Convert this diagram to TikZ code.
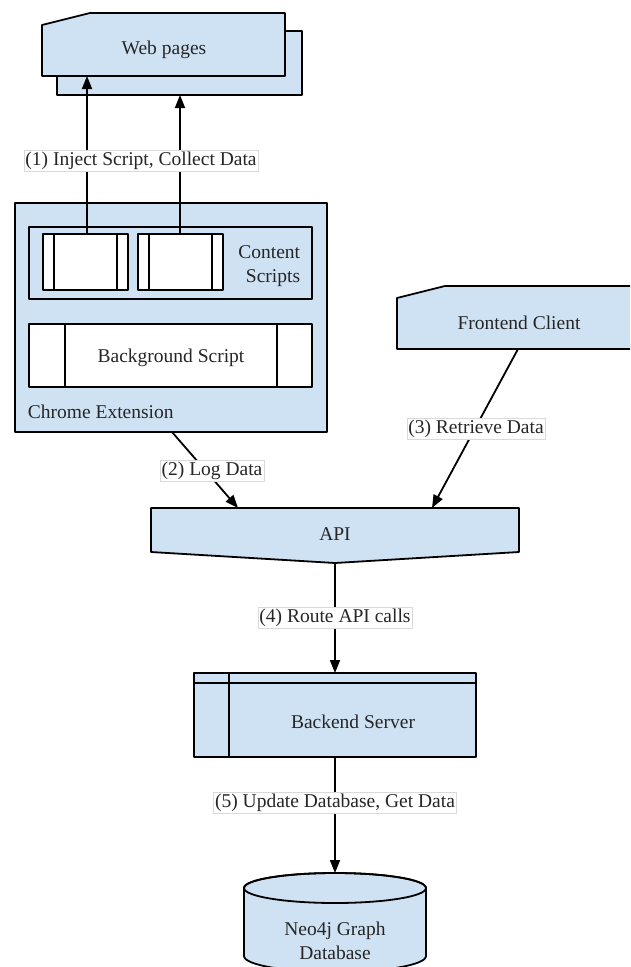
\documentclass[tikz,border=0pt]{standalone}
\usepackage{fontspec}
\setmainfont{Liberation Serif}
\usetikzlibrary{arrows.meta}
\definecolor{paleblue}{HTML}{CFE2F3}
\definecolor{inkgray}{HTML}{262626}

\begin{document}
\begin{tikzpicture}[x=1pt,y=-1pt,line width=1.8pt,line join=round,
  shapebox/.style={draw=black,fill=paleblue},
  whitebox/.style={draw=black,fill=white},
  txt/.style={text=inkgray,font=\fontsize{19.5}{23.5}\selectfont,inner sep=0pt},
  lbl/.style={txt,fill=white,draw=black!15,line width=.5pt,inner sep=1.5pt},
  arr/.style={-{Triangle[length=13pt,width=10pt]}}]

\useasboundingbox (0,0) rectangle (630,967);
\clip (0,0) rectangle (630,967);

% web pages
\path[shapebox] (57,31) rectangle (302,95);
\path[shapebox] (42,25) -- (90,13) -- (285,13) -- (285,76) -- (42,76) -- cycle;
\node[txt] (web) at (164,50) {Web pages};
\coordinate (webL) at (87,76);
\coordinate (webR) at (180,95);

% chrome extension
\path[shapebox] (15,203) rectangle (327,432);
\path[shapebox] (29,227) rectangle (312,299);
\foreach \a/\b in {43/128,138/223}{
  \path[whitebox] (\a,234) rectangle (\b,290);
  \draw (\a+11,234) -- (\a+11,290);
  \draw (\b-11,234) -- (\b-11,290);
}
\coordinate (cs1) at (87,234);
\coordinate (cs2) at (180,234);
\node[txt,align=right,anchor=east] (content) at (301,266) {Content\\Scripts};
\path[whitebox] (29,324) rectangle (312,387);
\draw (65,324) -- (65,387);
\draw (277,324) -- (277,387);
\node[txt] (bg) at (171,358) {Background Script};
\node[txt,anchor=west] (chrome) at (27,412) {Chrome Extension};
\coordinate (chromeB) at (172,432);

% frontend
\path[shapebox] (397,298) -- (445,286) -- (640,286) -- (640,349) -- (397,349) -- cycle;
\node[txt] (front) at (519,323) {Frontend Client};
\coordinate (frontB) at (518,349);

% api
\path[shapebox] (151,508) -- (519,508) -- (519,552) -- (335,563) -- (151,552) -- cycle;
\node[txt] (api) at (335,534) {API};
\coordinate (apiL) at (238,508);
\coordinate (apiR) at (432,508);
\coordinate (apiB) at (335,563);

% backend
\path[shapebox] (194,673) rectangle (476,757);
\draw (194,683) -- (476,683);
\draw (229,673) -- (229,757);
\node[txt] (backend) at (353,722) {Backend Server};
\coordinate (backT) at (335,673);
\coordinate (backB) at (335,757);

% database
\path[shapebox] (244,888) -- (244,956) arc[start angle=180,end angle=360,x radius=91pt,y radius=16pt]
  -- (426,888) arc[start angle=0,end angle=180,x radius=91pt,y radius=15pt] -- cycle;
\draw (335,888) ellipse[x radius=91pt,y radius=15pt];
\node[txt,align=center] (db) at (335,941) {Neo4j Graph\\Database};
\coordinate (dbT) at (335,873);

% connectors
\draw[arr] (cs1) -- (webL);
\draw[arr] (cs2) -- (webR);
\draw[arr] (chromeB) -- (apiL);
\draw[arr] (frontB) -- (apiR);
\draw[arr] (apiB) -- (backT);
\draw[arr] (backB) -- (dbT);

\node[lbl] (step1) at (141,161) {(1) Inject Script, Collect Data};
\node[lbl] (step2) at (212,471) {(2) Log Data};
\node[lbl] (step3) at (476,429) {(3) Retrieve Data};
\node[lbl] (step4) at (335,618) {(4) Route API calls};
\node[lbl] (step5) at (335,803) {(5) Update Database, Get Data};

\end{tikzpicture}
\end{document}
